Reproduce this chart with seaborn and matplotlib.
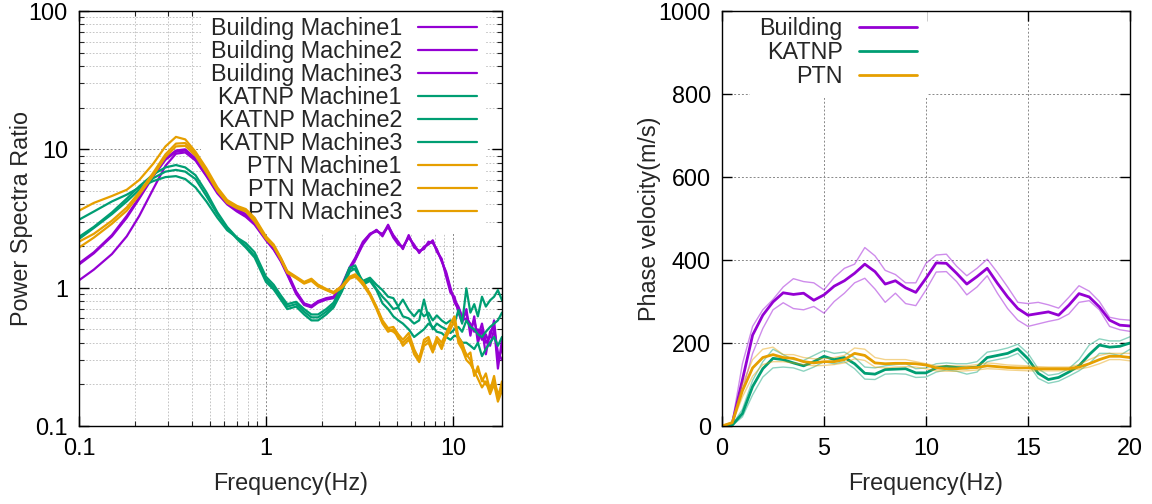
import numpy as np
import pandas as pd
import matplotlib
matplotlib.use("Agg")
import matplotlib.pyplot as plt
import matplotlib.ticker as mticker
from matplotlib.lines import Line2D
import seaborn as sns

# ---------------- data: power spectra ratio (left) ----------------
F_PSR = [0.10, 0.12, 0.15, 0.18, 0.21, 0.25, 0.29, 0.33, 0.37, 0.42,
         0.48, 0.55, 0.62, 0.70, 0.78, 0.87, 1.00, 1.10, 1.20, 1.30,
         1.45, 1.60, 1.75, 1.90, 2.10, 2.30, 2.55, 2.80, 3.00, 3.30,
         3.60, 3.90, 4.20, 4.50, 4.80, 5.10, 5.40, 5.80, 6.20, 6.60,
         7.00, 7.40, 7.80, 8.20, 8.70, 9.20, 9.70, 10.2, 10.7, 11.2,
         11.8, 12.4, 13.0, 13.6, 14.3, 15.0, 15.8, 16.6, 17.4, 18.3]

BUILDING_M1 = [1.50, 1.80, 2.40, 3.30, 4.50, 6.60, 8.60, 9.80, 10.0, 8.60,
               6.60, 5.00, 4.20, 3.70, 3.40, 3.00, 2.30, 1.95, 1.63, 1.30,
               0.94, 0.77, 0.74, 0.80, 0.84, 0.86, 1.05, 1.40, 1.64, 2.15,
               2.45, 2.60, 2.40, 2.85, 2.35, 2.10, 1.93, 2.35, 2.00, 1.82,
               1.93, 2.10, 2.15, 1.87, 1.58, 1.26, 0.96, 0.82, 0.73, 0.62,
               0.65, 0.50, 0.58, 0.44, 0.55, 0.40, 0.44, 0.58, 0.30, 0.36]
BUILDING_M2 = [1.47, 1.77, 2.35, 3.20, 4.40, 6.40, 8.40, 9.60, 9.80, 8.40,
               6.50, 4.90, 4.10, 3.60, 3.30, 2.90, 2.25, 1.90, 1.58, 1.26,
               0.92, 0.76, 0.73, 0.79, 0.83, 0.85, 1.02, 1.36, 1.60, 2.10,
               2.45, 2.55, 2.45, 2.75, 2.30, 2.05, 1.98, 2.30, 2.05, 1.78,
               1.98, 2.05, 2.20, 1.82, 1.62, 1.20, 0.92, 0.86, 0.66, 0.56,
               0.70, 0.45, 0.62, 0.40, 0.50, 0.33, 0.48, 0.52, 0.26, 0.42]
BUILDING_M3 = [1.13, 1.35, 1.75, 2.35, 3.30, 5.20, 7.60, 9.30, 9.50, 8.30,
               6.40, 4.80, 4.00, 3.55, 3.25, 2.85, 2.20, 1.88, 1.55, 1.24,
               0.90, 0.75, 0.72, 0.78, 0.82, 0.84, 1.00, 1.34, 1.58, 2.05,
               2.40, 2.62, 2.35, 2.80, 2.40, 2.15, 1.90, 2.40, 1.95, 1.85,
               1.90, 2.15, 2.10, 1.90, 1.55, 1.30, 1.00, 0.78, 0.70, 0.58,
               0.60, 0.55, 0.48, 0.50, 0.42, 0.46, 0.38, 0.50, 0.34, 0.30]
KATNP_M1 = [3.10, 3.55, 4.20, 4.70, 5.30, 5.90, 6.30, 6.40, 6.10, 5.30,
            4.20, 3.20, 2.60, 2.30, 2.10, 1.80, 1.20, 1.05, 0.88, 0.76,
            0.79, 0.70, 0.64, 0.64, 0.70, 0.78, 1.02, 1.40, 1.35, 1.12,
            1.18, 1.05, 0.96, 0.86, 0.84, 0.73, 0.82, 0.69, 0.62, 0.69,
            0.62, 0.66, 0.58, 0.63, 0.58, 0.55, 0.58, 0.55, 0.69, 0.55,
            0.99, 0.66, 0.76, 0.62, 0.86, 0.73, 0.81, 0.86, 0.96, 0.81]
KATNP_M2 = [2.33, 2.75, 3.50, 4.40, 5.40, 6.60, 7.40, 7.70, 7.40, 6.50,
            4.90, 3.50, 2.75, 2.30, 2.00, 1.70, 1.15, 1.00, 0.85, 0.73,
            0.76, 0.67, 0.61, 0.61, 0.67, 0.75, 0.97, 1.38, 1.45, 1.08,
            1.15, 0.98, 0.86, 0.78, 0.70, 0.72, 0.62, 0.60, 0.55, 0.58,
            0.82, 0.60, 0.50, 0.55, 0.52, 0.50, 0.47, 0.50, 0.52, 0.48,
            0.58, 0.52, 0.50, 0.46, 0.44, 0.48, 0.52, 0.55, 0.58, 0.66]
KATNP_M3 = [2.25, 2.70, 3.40, 4.20, 5.10, 6.20, 6.90, 7.10, 6.90, 6.10,
            4.60, 3.40, 2.70, 2.25, 1.95, 1.65, 1.10, 0.97, 0.82, 0.70,
            0.73, 0.64, 0.58, 0.58, 0.64, 0.72, 0.94, 1.30, 1.38, 1.05,
            1.12, 0.96, 0.77, 0.70, 0.62, 0.58, 0.55, 0.50, 0.44, 0.47,
            0.50, 0.55, 0.52, 0.48, 0.47, 0.44, 0.42, 0.45, 0.44, 0.40,
            0.40, 0.38, 0.36, 0.40, 0.32, 0.36, 0.40, 0.44, 0.38, 0.44]
PTN_M1 = [3.60, 4.10, 4.60, 5.10, 6.00, 7.90, 10.5, 12.3, 11.8, 9.60,
          7.30, 5.30, 4.30, 3.90, 3.70, 3.20, 2.35, 2.05, 1.65, 1.32,
          1.20, 1.10, 1.16, 1.05, 0.98, 0.93, 1.03, 1.20, 1.25, 1.10,
          0.91, 0.73, 0.58, 0.51, 0.52, 0.46, 0.42, 0.47, 0.36, 0.30,
          0.42, 0.44, 0.36, 0.44, 0.40, 0.47, 0.55, 0.62, 0.44, 0.40,
          0.32, 0.34, 0.23, 0.27, 0.21, 0.24, 0.18, 0.23, 0.16, 0.21]
PTN_M2 = [2.15, 2.45, 3.05, 3.80, 4.90, 6.80, 9.20, 11.0, 11.1, 9.30,
          7.00, 5.10, 4.20, 3.80, 3.60, 3.10, 2.30, 2.00, 1.62, 1.30,
          1.18, 1.08, 1.14, 1.04, 0.97, 0.92, 1.01, 1.18, 1.22, 1.05,
          0.88, 0.70, 0.55, 0.48, 0.50, 0.43, 0.40, 0.44, 0.33, 0.29,
          0.38, 0.40, 0.34, 0.41, 0.38, 0.44, 0.50, 0.58, 0.40, 0.36,
          0.30, 0.28, 0.25, 0.22, 0.19, 0.21, 0.17, 0.20, 0.15, 0.18]
PTN_M3 = [1.95, 2.30, 2.90, 3.60, 4.70, 6.50, 8.80, 10.5, 10.6, 9.00,
          6.80, 5.00, 4.10, 3.75, 3.55, 3.00, 2.25, 1.98, 1.60, 1.28,
          1.17, 1.07, 1.12, 1.02, 0.96, 0.91, 1.00, 1.16, 1.20, 1.07,
          0.90, 0.72, 0.56, 0.50, 0.48, 0.45, 0.38, 0.42, 0.35, 0.31,
          0.40, 0.42, 0.35, 0.42, 0.36, 0.45, 0.52, 0.56, 0.42, 0.38,
          0.33, 0.30, 0.24, 0.25, 0.22, 0.20, 0.19, 0.21, 0.17, 0.19]

PSR_SERIES = [
    ("Building Machine1", "Building", BUILDING_M1),
    ("Building Machine2", "Building", BUILDING_M2),
    ("Building Machine3", "Building", BUILDING_M3),
    ("KATNP Machine1", "KATNP", KATNP_M1),
    ("KATNP Machine2", "KATNP", KATNP_M2),
    ("KATNP Machine3", "KATNP", KATNP_M3),
    ("PTN Machine1", "PTN", PTN_M1),
    ("PTN Machine2", "PTN", PTN_M2),
    ("PTN Machine3", "PTN", PTN_M3),
]

# ---------------- data: phase velocity (right) ----------------
F_PV = [0.0, 0.5, 1.0, 1.5, 2.0, 2.5, 3.0, 3.5, 4.0, 4.5,
        5.0, 5.5, 6.0, 6.5, 7.0, 7.5, 8.0, 8.5, 9.0, 9.5,
        10.0, 10.5, 11.0, 11.5, 12.0, 12.5, 13.0, 13.5, 14.0, 14.5,
        15.0, 15.5, 16.0, 16.5, 17.0, 17.5, 18.0, 18.5, 19.0, 19.5, 20.0]

BLD_MEAN = [0, 5, 111, 219, 267, 299, 321, 317, 320, 303,
            316, 337, 350, 368, 390, 372, 342, 350, 333, 322,
            356, 393, 392, 368, 342, 360, 380, 344, 311, 283,
            267, 271, 275, 267, 291, 319, 311, 287, 255, 243, 241]
BLD_UP = [0, 8, 150, 240, 280, 305, 335, 355, 348, 345,
          328, 358, 380, 390, 430, 410, 375, 365, 345, 345,
          392, 412, 414, 385, 362, 380, 402, 370, 335, 298,
          295, 298, 292, 284, 310, 338, 325, 300, 262, 257, 255]
BLD_LO = [0, 4, 85, 175, 235, 280, 297, 283, 280, 288,
          272, 300, 320, 345, 356, 330, 298, 320, 295, 290,
          328, 371, 372, 348, 316, 335, 362, 320, 283, 255,
          240, 246, 252, 257, 270, 298, 302, 280, 240, 232, 228]

KAT_MEAN = [0, 2, 30, 95, 138, 163, 160, 152, 145, 155,
            168, 160, 165, 150, 127, 125, 136, 137, 138, 128,
            128, 140, 144, 141, 140, 142, 165, 170, 175, 186,
            162, 127, 112, 117, 130, 145, 172, 195, 190, 192, 200]
KAT_UP = [0, 3, 40, 110, 155, 185, 172, 160, 158, 170,
          182, 175, 178, 165, 142, 140, 145, 148, 150, 138,
          140, 150, 152, 150, 150, 155, 178, 182, 188, 197,
          175, 138, 122, 126, 138, 160, 195, 210, 205, 205, 215]
KAT_LO = [0, 1, 22, 75, 118, 140, 142, 140, 132, 142,
          155, 150, 155, 138, 113, 112, 125, 126, 125, 117,
          118, 130, 135, 132, 125, 130, 155, 160, 165, 175,
          150, 115, 103, 108, 120, 133, 150, 175, 175, 170, 185]

PTN_MEAN = [0, 8, 85, 140, 165, 172, 165, 163, 155, 152,
            155, 155, 160, 175, 170, 152, 150, 151, 151, 150,
            147, 140, 138, 138, 140, 141, 145, 143, 141, 140,
            140, 138, 138, 138, 138, 142, 150, 160, 168, 168, 165]
PTN_UP = [0, 10, 100, 160, 185, 190, 172, 172, 165, 162,
          162, 165, 170, 188, 185, 165, 160, 160, 160, 155,
          150, 145, 145, 145, 145, 148, 152, 150, 147, 146,
          145, 143, 142, 142, 142, 148, 160, 170, 175, 175, 175]
PTN_LO = [0, 6, 70, 120, 148, 155, 155, 152, 148, 145,
          146, 148, 152, 162, 158, 142, 140, 142, 143, 142,
          138, 133, 132, 132, 133, 135, 138, 137, 135, 134,
          133, 133, 133, 133, 134, 137, 142, 150, 160, 160, 157]

PV_SERIES = [
    ("Building", BLD_MEAN, BLD_UP, BLD_LO),
    ("KATNP", KAT_MEAN, KAT_UP, KAT_LO),
    ("PTN", PTN_MEAN, PTN_UP, PTN_LO),
]

COLORS = {"Building": "#9400d3", "KATNP": "#009e73", "PTN": "#e69f00"}

# ---------------- style ----------------
sns.set_theme(style="ticks")
plt.rcParams["font.family"] = ["Liberation Sans", "DejaVu Sans"]
FS = 16.8

fig = plt.figure(figsize=(11.52, 5.04), dpi=100)
axL = fig.add_axes([79 / 1152, 1 - 426 / 504, 423 / 1152, 415 / 504])
axR = fig.add_axes([722 / 1152, 1 - 426 / 504, 408 / 1152, 415 / 504])

# ---------------- left panel ----------------
handles = []
for label, grp, vals in PSR_SERIES:
    df = pd.DataFrame({"f": F_PSR, "v": vals})
    sns.lineplot(data=df, x="f", y="v", ax=axL, color=COLORS[grp],
                 linewidth=1.6, estimator=None, sort=False, legend=False)
    handles.append(Line2D([], [], color=COLORS[grp], lw=1.6, label=label))

axL.set_xscale("log")
axL.set_yscale("log")
axL.set_xlim(0.1, 18.3)
axL.set_ylim(0.1, 100)
axL.xaxis.set_major_locator(mticker.FixedLocator([0.1, 1, 10]))
axL.xaxis.set_major_formatter(mticker.FixedFormatter(["0.1", "1", "10"]))
axL.yaxis.set_major_locator(mticker.FixedLocator([0.1, 1, 10, 100]))
axL.yaxis.set_major_formatter(mticker.FixedFormatter(["0.1", "1", "10", "100"]))
for axis in (axL.xaxis, axL.yaxis):
    axis.set_minor_locator(mticker.LogLocator(base=10, subs=np.arange(2, 10)))
    axis.set_minor_formatter(mticker.NullFormatter())
axL.grid(True, which="major", color="#888888", lw=0.7, ls=(0, (2, 2)))
axL.grid(True, which="minor", color="#bbbbbb", lw=0.6, ls=(0, (2, 2)))
axL.set_axisbelow(True)
axL.tick_params(which="major", direction="in", length=7, width=1,
                top=True, right=True, labelsize=FS, pad=8, colors="black")
axL.tick_params(which="minor", direction="in", length=3.5, width=0.8,
                top=True, right=True)
axL.set_xlabel("Frequency(Hz)", fontsize=FS)
axL.set_ylabel("Power Spectra Ratio", fontsize=FS)
axL.xaxis.set_label_coords(0.5, -0.112)
axL.yaxis.set_label_coords(-0.108, 0.5)

legL = axL.legend(handles=handles, loc="upper right", bbox_to_anchor=(0.962, 1.007),
                  markerfirst=False, frameon=True, fontsize=FS, handlelength=2.5,
                  handletextpad=0.7, labelspacing=0.0, borderpad=0.4,
                  borderaxespad=0, fancybox=False)
legL.get_frame().set_facecolor("white")
legL.get_frame().set_edgecolor("none")
legL.get_frame().set_alpha(1)
legL.set_zorder(1.5)

# ---------------- right panel ----------------
handlesR = []
for grp, mean, up, lo in PV_SERIES:
    c = COLORS[grp]
    for bound in (up, lo):
        sns.lineplot(x=F_PV, y=bound, ax=axR, color=c, linewidth=1.0, alpha=0.45,
                     estimator=None, sort=False, legend=False)
    sns.lineplot(x=F_PV, y=mean, ax=axR, color=c, linewidth=2.0,
                 estimator=None, sort=False, legend=False)
    handlesR.append(Line2D([], [], color=c, lw=2.0, label=grp))

axR.set_xlim(0, 20)
axR.set_ylim(0, 1000)
axR.set_xticks([0, 5, 10, 15, 20])
axR.set_yticks([0, 200, 400, 600, 800, 1000])
axR.grid(True, which="major", color="#888888", lw=0.7, ls=(0, (2, 2)))
axR.set_axisbelow(True)
axR.tick_params(direction="in", length=7, width=1, top=True, right=True,
                labelsize=FS, pad=8, colors="black")
axR.set_xlabel("Frequency(Hz)", fontsize=FS)
axR.set_ylabel("Phase velocity(m/s)", fontsize=FS)
axR.xaxis.set_label_coords(0.5, -0.112)
axR.yaxis.set_label_coords(-0.15, 0.5)

legR = axR.legend(handles=handlesR, loc="upper right", bbox_to_anchor=(0.502, 1.007),
                  markerfirst=False, frameon=True, fontsize=FS, handlelength=2.5,
                  handletextpad=0.7, labelspacing=0.04, borderpad=0.4,
                  borderaxespad=0, fancybox=False)
legR.get_frame().set_facecolor("white")
legR.get_frame().set_edgecolor("none")
legR.get_frame().set_alpha(1)
legR.set_zorder(1.5)

for ax in (axL, axR):
    for s in ax.spines.values():
        s.set_color("black")
        s.set_linewidth(1.0)

fig.savefig("out.png", dpi=100)
